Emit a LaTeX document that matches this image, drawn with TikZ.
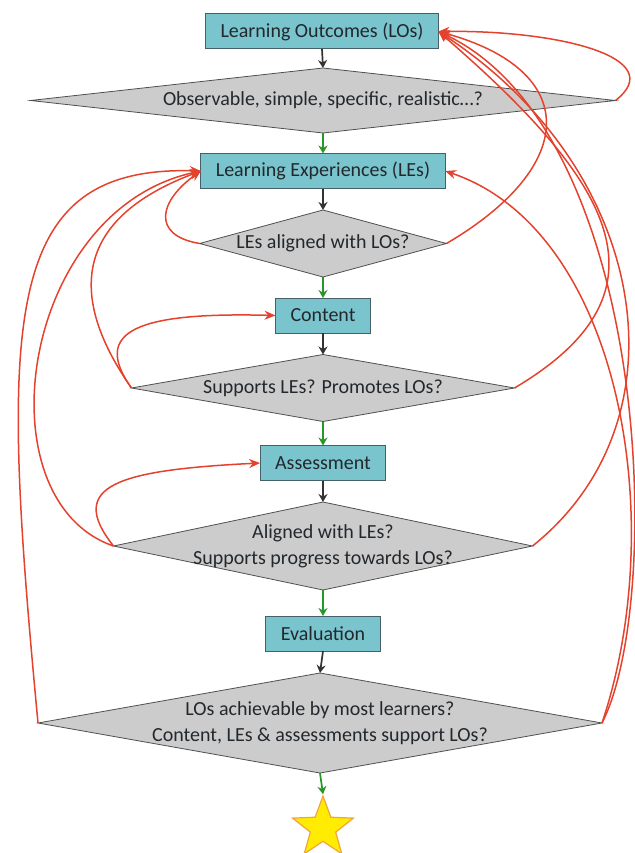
\documentclass[tikz,border=0pt]{standalone}
\usepackage{fontspec}
\setmainfont{Carlito}
\usetikzlibrary{arrows.meta, shapes.geometric}

\definecolor{stagefill}{RGB}{122,196,205}
\definecolor{stageline}{RGB}{70,95,105}
\definecolor{askfill}{RGB}{204,204,204}
\definecolor{askline}{RGB}{80,80,80}
\definecolor{redo}{RGB}{228,66,44}
\definecolor{pass}{RGB}{40,150,40}
\definecolor{ink}{RGB}{35,40,45}

\begin{document}
\begin{tikzpicture}[x=1pt, y=-1pt,
  stage/.style={draw=stageline, fill=stagefill, line width=1pt, minimum height=35pt,
    inner xsep=15pt, outer sep=0pt, text=ink, font=\fontsize{20}{26}\selectfont},
  ask/.style={diamond, draw=askline, fill=askfill, line width=0.8pt,
    inner xsep=-50pt, inner ysep=0pt, outer sep=0pt, align=center, text=ink,
    font=\fontsize{20}{26}\selectfont},
  flowblack/.style={-{Stealth[length=8pt,width=9pt]}, line width=1.7pt, black!80},
  flowgreen/.style={-{Stealth[length=8pt,width=9pt]}, line width=1.7pt, pass},
  redoarrow/.style={-{Stealth[length=11pt,width=9pt]}, line width=1.5pt, redo}]
\useasboundingbox (0,0) rectangle (634,853);

%% steps and checks
\node[stage] (lo) at (322,31.5) {Learning Outcomes (LOs)};
\node[ask, aspect=9, minimum width=585pt, minimum height=65pt] (d1) at (323,100.5)
  {Observable, simple, specific, realistic…?};
\node[stage] (le) at (323,171) {Learning Experiences (LEs)};
\node[ask, aspect=3.7, minimum width=247pt, minimum height=67pt] (d2) at (323,243.5)
  {LEs aligned with LOs?};
\node[stage] (co) at (323,315.5) {Content};
\node[ask, aspect=5.7, minimum width=383pt, minimum height=67pt] (d3) at (323,388)
  {Supports LEs? Promotes LOs?};
\node[stage] (as) at (323,463) {Assessment};
\node[ask, aspect=4.76, minimum width=419pt, minimum height=88pt] (d4) at (323,546)
  {Aligned with LEs?\\Supports progress towards LOs?};
\node[stage] (ev) at (323,633.5) {Evaluation};
\node[ask, aspect=5.64, minimum width=564pt, minimum height=100pt] (d5) at (320,723)
  {LOs achievable by most learners?\\Content, LEs \& assessments support LOs?};
\node[star, star points=5, star point ratio=2.4, fill={rgb,255:red,255;green,236;blue,0},
  draw={rgb,255:red,240;green,165;blue,60}, line width=1.2pt, minimum size=64pt,
  inner sep=0pt] (goal) at (323,828) {};

%% down the chain
\foreach \a/\b in {lo/d1, le/d2, co/d3, as/d4, ev/d5}
  \draw[flowblack] (\a.south) -- (\b.north);
\foreach \a/\b in {d1/le, d2/co, d3/as, d4/ev, d5/goal}
  \draw[flowgreen] (\a.south) -- (\b.north);

%% back to the outcomes (right)
\draw[redoarrow] (d1.east) .. controls (670,58) and (560,30) .. (lo.east);
\draw[redoarrow] (d2.east) .. controls (580,165) and (580,70) .. (lo.east);
\draw[redoarrow] (d3.east) .. controls (680,290) and (610,180) .. (lo.east);
\draw[redoarrow] (d4.east) .. controls (690,420) and (650,170) .. (lo.east);
\draw[redoarrow] (d5.east) .. controls (665,600) and (650,130) .. (lo.east);
\draw[redoarrow] (d5.east) .. controls (670,520) and (620,230) .. (le.east);

%% back to the experiences (left)
\draw[redoarrow] (d2.west) .. controls (150,235) and (160,200) .. (le.west);
\draw[redoarrow] (d3.west) .. controls (70,300) and (70,220) .. (le.west);
\draw[redoarrow] (d4.west) .. controls (-20,500) and (20,210) .. (le.west);
\draw[redoarrow] (d5.west) .. controls (0,320) and (0,165) .. (le.west);

%% back one step
\draw[redoarrow] (d3.west) .. controls (90,330) and (140,312) .. (co.west);
\draw[redoarrow] (d4.west) .. controls (65,485) and (120,470) .. (as.west);
\end{tikzpicture}
\end{document}
